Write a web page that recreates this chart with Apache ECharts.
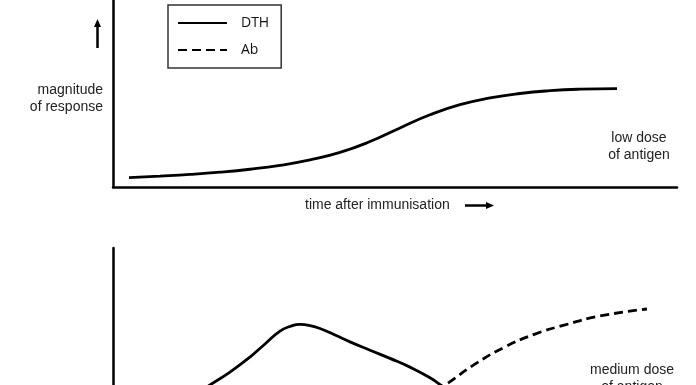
<!DOCTYPE html>
<html>
<head>
<meta charset="utf-8">
<script src="https://cdn.jsdelivr.net/npm/echarts@6/dist/echarts.min.js"></script>
<style>html,body{margin:0;padding:0;background:#fff}#c{width:696px;height:385px}</style>
</head>
<body>
<div id="c"></div>
<script>
// Top panel: DTH response, low dose of antigen  [time, magnitude] (0-100 scales)
const lowDoseDTH = [
  [2.84, 5.0], [8.33, 5.8], [13.65, 6.7], [18.97, 7.9], [24.29, 9.5], [29.61, 11.6],
  [34.93, 14.5], [40.25, 18.5], [45.57, 24.3], [50.89, 31.6], [56.21, 38.6],
  [61.52, 44.0], [66.84, 47.6], [72.16, 50.0], [77.48, 51.5], [82.80, 52.3], [89.36, 52.6]
];
// Bottom panel: medium dose of antigen
const mediumDoseDTH = [
  [13.65, 20.5], [17.20, 27.9], [20.74, 34.7], [24.29, 42.6], [26.95, 49.5], [29.61, 56.3],
  [31.38, 58.7], [33.16, 59.8], [34.93, 59.2], [36.70, 57.6], [39.36, 54.2], [42.02, 50.6],
  [45.57, 46.2], [49.11, 41.9], [52.66, 37.3], [56.21, 31.7], [58.87, 26.3], [61.52, 21.1]
];
const mediumDoseAb = [
  [55.32, 20.5], [59.40, 28.9], [64.18, 38.9], [69.50, 47.9], [74.82, 54.7],
  [80.14, 59.5], [86.35, 64.2], [94.68, 67.9]
];
const seriesNames = ['DTH', 'Ab'];
const yLabel = ['magnitude', 'of response'];
const xLabel = 'time after immunisation';
const panelLabels = [['low dose', 'of antigen'], ['medium dose', 'of antigen']];

const chart = echarts.init(document.getElementById('c'), null, {renderer: 'canvas'});
const axisLine = {show: true, onZero: false, lineStyle: {color: '#000', width: 2.5}};
const hiddenAxis = (gi) => ({
  type: 'value', gridIndex: gi, min: 0, max: 100,
  axisLine: axisLine, axisTick: {show: false}, axisLabel: {show: false}, splitLine: {show: false}
});
const lineW = 2.8;
const txt = (x, y, s, align, font, size) => ({
  type: 'text', x: x, y: y,
  style: {text: s, fill: '#222', font: size + 'px ' + font, textAlign: align, textVerticalAlign: 'middle'}
});
const option = {
  animation: false,
  backgroundColor: '#fff',
  grid: [
    {left: 113, top: 0, width: 564, height: 187, outerBoundsMode: 'none'},
    {left: 113, top: 248, width: 564, height: 190, outerBoundsMode: 'none'}
  ],
  xAxis: [hiddenAxis(0), hiddenAxis(1)],
  yAxis: [hiddenAxis(0), hiddenAxis(1)],
  legend: {
    data: seriesNames,
    orient: 'vertical',
    left: 168, top: 5,
    itemWidth: 49, itemHeight: 14, itemGap: 13,
    padding: [11, 12, 11, 9],
    borderColor: '#333', borderWidth: 1.5,
    itemStyle: {opacity: 0},
    textStyle: {fontFamily: 'Open Sans', fontSize: 14, color: '#111', padding: [0, 0, 0, 9]},
    selectedMode: false
  },
  series: [
    {name: 'DTH', type: 'line', xAxisIndex: 0, yAxisIndex: 0, data: lowDoseDTH, smooth: true,
     symbol: 'none', lineStyle: {color: '#000', width: lineW}, itemStyle: {color: '#000'}},
    {name: 'DTH', type: 'line', xAxisIndex: 1, yAxisIndex: 1, data: mediumDoseDTH, smooth: true,
     symbol: 'none', lineStyle: {color: '#000', width: lineW}, itemStyle: {color: '#000'}},
    {name: 'Ab', type: 'line', xAxisIndex: 1, yAxisIndex: 1, data: mediumDoseAb, smooth: true,
     symbol: 'none', lineStyle: {color: '#000', width: lineW, type: [9, 5]}, itemStyle: {color: '#000'}}
  ],
  graphic: [
    txt(103, 90, yLabel[0], 'right', 'Liberation Sans', 14),
    txt(103, 107, yLabel[1], 'right', 'Liberation Sans', 14),
    txt(305, 205, xLabel, 'left', 'Liberation Sans', 14),
    txt(639, 138, panelLabels[0][0], 'center', 'Liberation Sans', 14),
    txt(639, 155, panelLabels[0][1], 'center', 'Liberation Sans', 14),
    txt(632, 370, panelLabels[1][0], 'center', 'Liberation Sans', 14),
    txt(632, 387, panelLabels[1][1], 'center', 'Liberation Sans', 14),
    // up arrow
    {type: 'line', shape: {x1: 97.5, y1: 48, x2: 97.5, y2: 26}, style: {stroke: '#000', lineWidth: 2.5}},
    {type: 'polygon', shape: {points: [[97.5, 19], [94, 27], [101, 27]]}, style: {fill: '#000'}},
    // right arrow
    {type: 'line', shape: {x1: 465, y1: 205.5, x2: 487, y2: 205.5}, style: {stroke: '#000', lineWidth: 2.5}},
    {type: 'polygon', shape: {points: [[494, 205.5], [486, 202], [486, 209]]}, style: {fill: '#000'}}
  ]
};
chart.setOption(option);
</script>
</body>
</html>
